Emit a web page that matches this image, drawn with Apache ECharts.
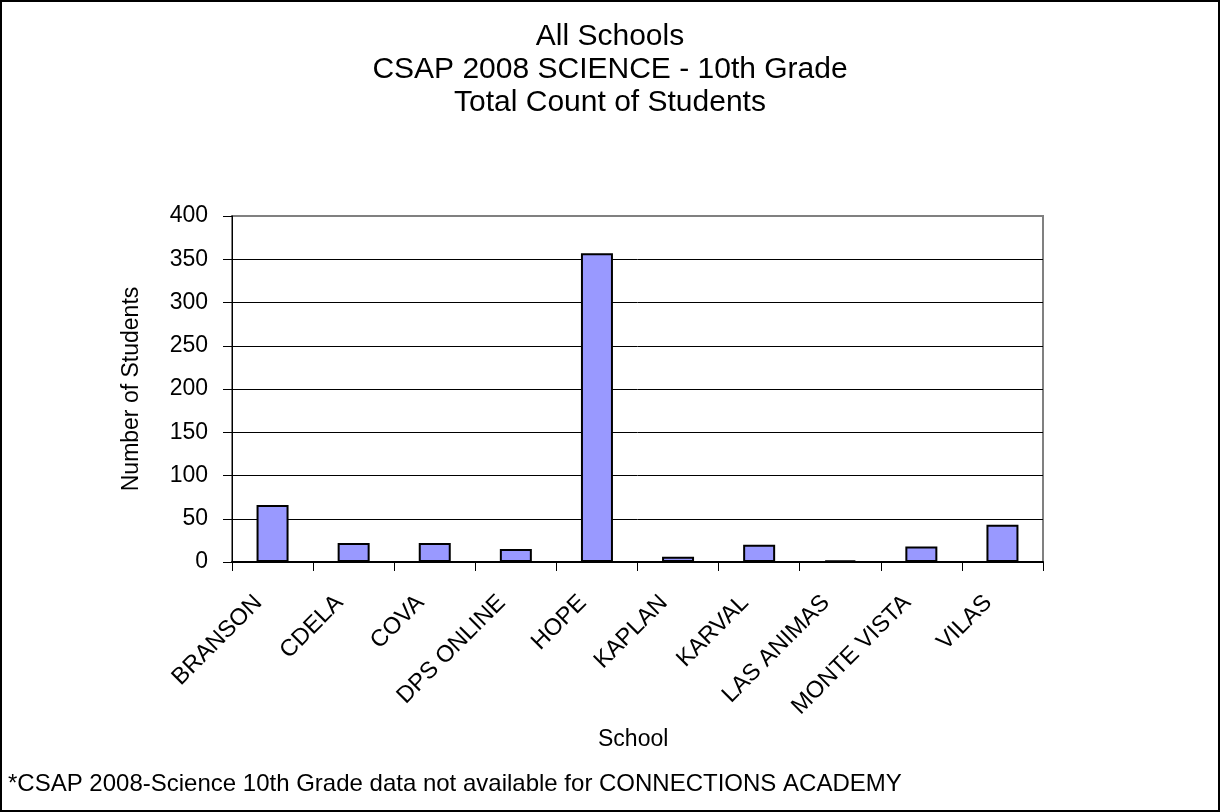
<!DOCTYPE html>
<html>
<head>
<meta charset="utf-8">
<script src="https://cdn.jsdelivr.net/npm/echarts@6/dist/echarts.min.js"></script>
<style>
html,body{margin:0;padding:0;background:#fff;}
#chart{width:1220px;height:812px;}
</style>
</head>
<body>
<div id="chart"></div>
<script>
const schools = ['BRANSON','CDELA','COVA','DPS ONLINE','HOPE','KAPLAN','KARVAL','LAS ANIMAS','MONTE VISTA','VILAS'];
const studentCounts = [66, 22, 22, 15, 357, 6, 20, 2, 18, 43];
const yTicks = [0, 50, 100, 150, 200, 250, 300, 350, 400];
const titleLines = ['All Schools', 'CSAP 2008 SCIENCE - 10th Grade', 'Total Count of Students'];
const footnote = '*CSAP 2008-Science 10th Grade data not available for CONNECTIONS ACADEMY';

const FONT = '"Liberation Sans", Arial, sans-serif';
const gridColors = yTicks.map((t, i) => i === yTicks.length - 1 ? '#808080' : '#000');
const chart = echarts.init(document.getElementById('chart'), null, {renderer: 'canvas'});
chart.setOption({
  backgroundColor: '#fff',
  animation: false,
  title: {
    text: titleLines.join('\n'),
    left: 'center',
    top: 15,
    textStyle: {fontFamily: FONT, fontSize: 30, fontWeight: 'normal', color: '#000', lineHeight: 33}
  },
  grid: {
    left: 232, right: 177, top: 216, bottom: 250,
    show: true, borderColor: '#808080', borderWidth: 2, backgroundColor: 'transparent'
  },
  xAxis: {
    type: 'category',
    data: schools,
    boundaryGap: true,
    axisLine: {lineStyle: {color: '#000', width: 2}},
    axisTick: {show: true, length: 9, lineStyle: {color: '#000', width: 1}},
    axisLabel: {rotate: 45, margin: 23, padding: [0, 20, 0, 0], interval: 0, fontFamily: FONT, fontSize: 23.5, color: '#000'},
    splitLine: {show: false}
  },
  yAxis: {
    type: 'value',
    min: yTicks[0],
    max: yTicks[yTicks.length - 1],
    interval: yTicks[1] - yTicks[0],
    name: 'Number of Students',
    nameLocation: 'middle',
    nameGap: 89,
    nameTextStyle: {fontFamily: FONT, fontSize: 23, color: '#000'},
    axisLine: {show: true, lineStyle: {color: '#000', width: 1}},
    axisTick: {show: true, length: 9, lineStyle: {color: '#000'}},
    axisLabel: {margin: 24, fontFamily: FONT, fontSize: 23, color: '#000'},
    splitLine: {show: true, lineStyle: {color: gridColors, width: 1}}
  },
  series: [{
    type: 'bar',
    data: studentCounts,
    barWidth: 32,
    itemStyle: {color: '#9999FF', borderColor: '#000', borderWidth: 2}
  }],
  graphic: [
    {type: 'rect', shape: {x: 1, y: 1, width: 1218, height: 810}, style: {fill: 'none', stroke: '#000', lineWidth: 2}, z: 100},
    {type: 'text', left: 598, top: 728, style: {text: 'School', font: '23px ' + FONT, fill: '#000'}},
    {type: 'text', left: 8, top: 772, style: {text: footnote, font: '24px ' + FONT, fill: '#000'}}
  ]
});
</script>
</body>
</html>
